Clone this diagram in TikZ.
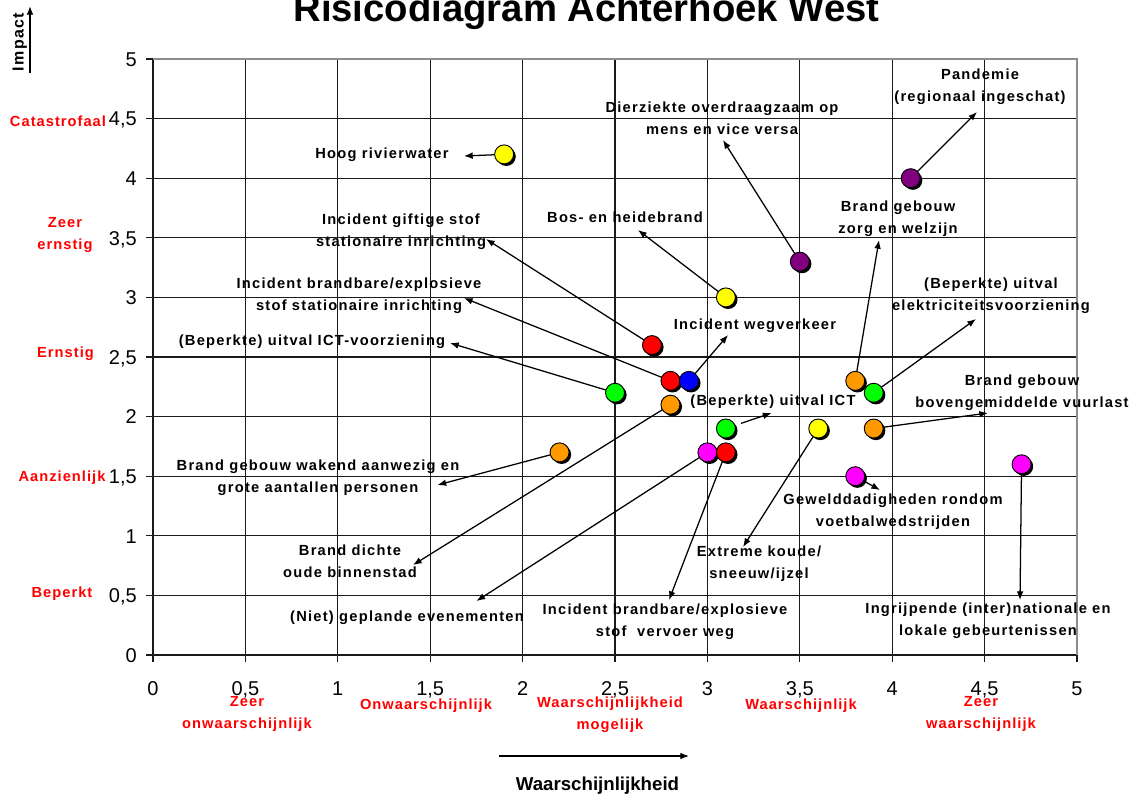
\documentclass[tikz,border=0pt]{standalone}
\usepackage{fontspec}
\setmainfont{Liberation Sans}
\newfontfamily\lblfont{Liberation Sans}[LetterSpace=8.5]
\newfontfamily\redfont{Liberation Sans}[LetterSpace=7]
\usetikzlibrary{arrows.meta,shadows}
\pgfdeclarelayer{bg}
\pgfdeclarelayer{paper}
\pgfsetlayers{paper,bg,main}
\definecolor{dyellow}{HTML}{FFFF00}
\definecolor{dpurple}{HTML}{800080}
\definecolor{dred}{HTML}{FF0000}
\definecolor{dblue}{HTML}{0000FF}
\definecolor{dgreen}{HTML}{00FF00}
\definecolor{dorange}{HTML}{FF9900}
\definecolor{dmagenta}{HTML}{FF00FF}
\definecolor{bordergray}{HTML}{8C8C8C}
\definecolor{gridcol}{HTML}{1A1A1A}
\begin{document}
\begin{tikzpicture}[x=0.75pt,y=-0.75pt,
 lbl/.style={font={\lblfont\bfseries\fontsize{11}{16.5}\selectfont}, align=center, inner sep=0pt, execute at begin node=\strut, execute at end node=\strut},
 cat/.style={lbl, font={\redfont\bfseries\fontsize{11}{16.5}\selectfont}, text=dred},
 ticklbl/.style={font=\fontsize{15}{18}\selectfont, inner sep=0pt},
 gridline/.style={line width=1pt, gridcol},
 conn/.style={line width=0.95pt, -{Latex[length=6.5pt,width=5pt]}},
 dot/.style={circle, draw=black, line width=0.7pt, inner sep=0pt, minimum size=14.25pt, drop shadow={shadow xshift=1.6pt, shadow yshift=-1.6pt, opacity=1, fill=black}}
]
\begin{pgfonlayer}{paper}
\fill[white] (0,0) rectangle (1141,797);
\end{pgfonlayer}
\useasboundingbox (0,0) rectangle (1141,797);

% title
\node[font={\bfseries\fontsize{28.7}{32}\selectfont}, anchor=base, inner sep=0pt] (title) at (586.5,21.5) {Risicodiagram Achterhoek West};

% plot area in data coordinates
\begin{scope}[shift={(153,655)}, x=138.6pt, y=89.4pt]
 \begin{pgfonlayer}{bg}
  \foreach \g in {0,0.5,1,1.5,2,2.5,3,3.5,4,4.5} {
    \draw[gridline] (\g,0) -- (\g,5);
    \draw[gridline] (0,\g) -- (5,\g);
  }
  \draw[line width=1pt, bordergray] (0,5) -- (5,5) -- (5,0);
  \foreach \g in {0,0.5,1,1.5,2,2.5,3,3.5,4,4.5,5} {
    \draw[gridline] (0,\g) -- ++(-5.5pt,0);
    \draw[gridline] (\g,0) -- ++(0,-5pt);
  }
 \end{pgfonlayer}
 \foreach \v/\t [count=\k] in {0/0,0.5/{0,5},1/1,1.5/{1,5},2/2,2.5/{2,5},3/3,3.5/{3,5},4/4,4.5/{4,5},5/5} {
   \node[ticklbl, anchor=base east, xshift=-12pt, yshift=-5.4pt] (yl\k) at (0,\v) {\t};
   \node[ticklbl, anchor=base, yshift=-30pt] (xl\k) at (\v,0) {\t};
 }
 % risk points
 \node[dot, fill=dyellow]  (d1)  at (1.9,4.2) {};
 \node[dot, fill=dpurple]  (d2)  at (4.1,4.0) {};
 \node[dot, fill=dpurple]  (d3)  at (3.5,3.3) {};
 \node[dot, fill=dyellow]  (d4)  at (3.1,3.0) {};
 \node[dot, fill=dorange]  (d5)  at (3.8,2.3) {};
 \node[dot, fill=dred]     (d6)  at (2.7,2.6) {};
 \node[dot, fill=dred]     (d7)  at (2.8,2.3) {};
 \node[dot, fill=dgreen]   (d8)  at (3.9,2.2) {};
 \node[dot, fill=dblue]    (d9)  at (2.9,2.3) {};
 \node[dot, fill=dgreen]   (d10) at (2.5,2.2) {};
 \node[dot, fill=dorange]  (d11) at (3.9,1.9) {};
 \node[dot, fill=dgreen]   (d12) at (3.1,1.9) {};
 \node[dot, fill=dorange]  (d13) at (2.2,1.7) {};
 \node[dot, fill=dmagenta] (d14) at (3.8,1.5) {};
 \node[dot, fill=dorange]  (d15) at (2.8,2.1) {};
 \node[dot, fill=dyellow]  (d16) at (3.6,1.9) {};
 \node[dot, fill=dmagenta] (d17) at (3.0,1.7) {};
 \node[dot, fill=dred]     (d18) at (3.1,1.7) {};
 \node[dot, fill=dmagenta] (d19) at (4.7,1.6) {};
\end{scope}

% axis captions
\node[font={\lblfont\bfseries\fontsize{12}{14}\selectfont}, rotate=90, inner sep=0pt, execute at begin node=\strut] (impact) at (20,42) {Impact};
\coordinate (ia) at (30,73);
\coordinate (ib) at (30,6);
\node[font={\bfseries\fontsize{14}{16}\selectfont}, anchor=base, inner sep=0pt] (wk) at (597.5,790) {Waarschijnlijkheid};
\coordinate (wa) at (499,756);
\coordinate (wb) at (689,756);

% category labels
\node[cat] (c1) at (58,122) {Catastrofaal};
\node[cat] (c2) at (65,236.5) {Zeer\\ernstig};
\node[cat] (c3) at (65.5,353) {Ernstig};
\node[cat] (c4) at (62,477) {Aanzienlijk};
\node[cat] (c5) at (62,593) {Beperkt};
\node[cat] (c6) at (247,716) {Zeer\\onwaarschijnlijk};
\node[cat] (c7) at (426,705) {Onwaarschijnlijk};
\node[cat] (c8) at (610,716.5) {Waarschijnlijkheid\\mogelijk};
\node[cat] (c9) at (801,705) {Waarschijnlijk};
\node[cat] (c10) at (981,716) {Zeer\\waarschijnlijk};

% risk labels
\node[lbl] (l1)  at (382,154) {Hoog rivierwater};
\node[lbl] (l2)  at (980,88.5) {Pandemie\\(regionaal ingeschat)};
\node[lbl] (l3)  at (722,121.5) {Dierziekte overdraagzaam op\\mens en vice versa};
\node[lbl] (l4)  at (625,218) {Bos- en heidebrand};
\node[lbl] (l5)  at (898,220.5) {Brand gebouw\\zorg en welzijn};
\node[lbl] (l6)  at (401,233) {Incident giftige stof\\stationaire inrichting};
\node[lbl] (l7)  at (359,297.5) {Incident brandbare/explosieve\\stof stationaire inrichting};
\node[lbl] (l8)  at (991,297.5) {(Beperkte) uitval\\elektriciteitsvoorziening};
\node[lbl] (l9)  at (755,325) {Incident wegverkeer};
\node[lbl] (l10) at (312,341) {(Beperkte) uitval ICT-voorziening};
\node[lbl] (l11) at (1022,394) {Brand gebouw\\bovengemiddelde vuurlast};
\node[lbl] (l12) at (773,401) {(Beperkte) uitval ICT};
\node[lbl] (l13) at (318,479) {Brand gebouw wakend aanwezig en\\grote aantallen personen};
\node[lbl] (l14) at (893,513) {Gewelddadigheden rondom\\voetbalwedstrijden};
\node[lbl] (l15) at (350,564) {Brand dichte\\oude binnenstad};
\node[lbl] (l16) at (759,565.5) {Extreme koude/\\sneeuw/ijzel};
\node[lbl] (l17) at (407,617) {(Niet) geplande evenementen};
\node[lbl] (l18) at (665,623.5) {Incident brandbare/explosieve\\stof\ \ vervoer weg};
\node[lbl] (l19) at (988,622.5) {Ingrijpende (inter)nationale en\\lokale gebeurtenissen};

% arrow tips
\coordinate (t1) at (464,156);
\coordinate (t2) at (977,112);
\coordinate (t3) at (723,140);
\coordinate (t4) at (638,230);
\coordinate (t5) at (879,240);
\coordinate (t6) at (486,239);
\coordinate (t7) at (464,298);
\coordinate (t8) at (976,319);
\coordinate (t9) at (728,335);
\coordinate (t10) at (450,343);
\coordinate (t11) at (988,413);
\coordinate (t12) at (771.5,413);
\coordinate (t13) at (437.5,485);
\coordinate (t14) at (880,490);
\coordinate (t15) at (413,565);
\coordinate (t16) at (743,547);
\coordinate (t17) at (476.5,601);
\coordinate (t18) at (669,600);
\coordinate (t19) at (1020,600);

\begin{pgfonlayer}{bg}
 \draw[conn] (ia) -- (ib);
 \draw[conn] (wa) -- (wb);
 \foreach \i in {1,2,3,4,5,6,7,8,9,10,11,13,14,15,16,17,18,19}
   \draw[conn] (d\i.center) -- (t\i);
 \draw[conn, shorten <=12pt] (d12.center) -- (t12);
\end{pgfonlayer}
\end{tikzpicture}
\end{document}
